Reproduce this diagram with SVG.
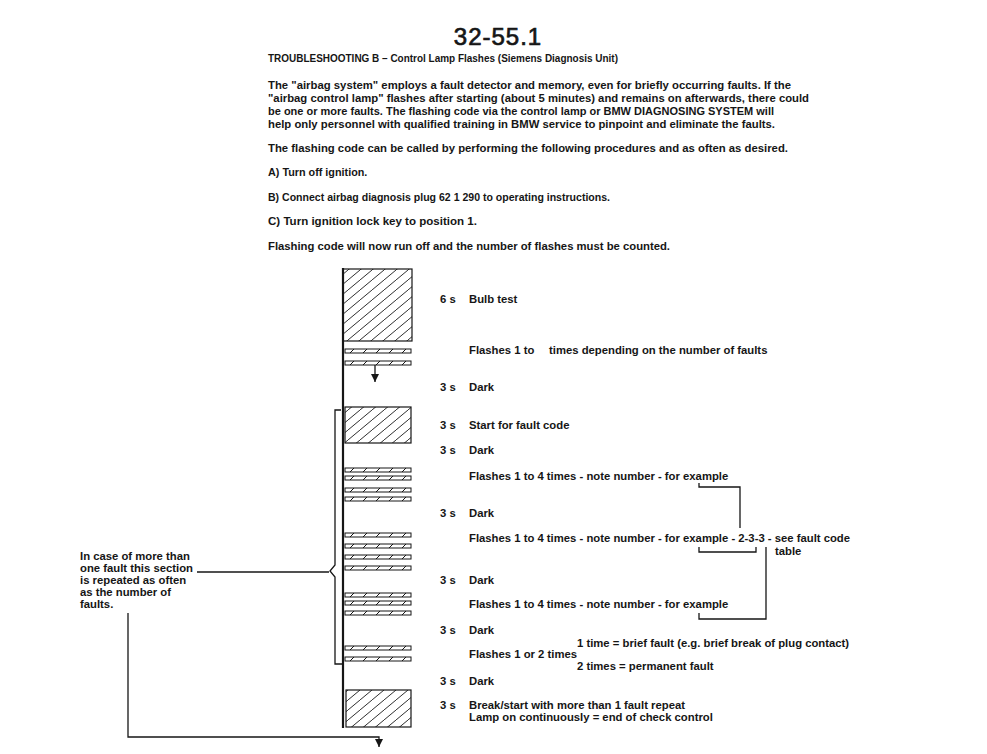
<svg xmlns="http://www.w3.org/2000/svg" width="987" height="754" viewBox="0 0 987 754">
<style>
text{font-family:"Liberation Sans",Arial,sans-serif;font-weight:bold;font-size:11.3px;fill:#161616}
.hd{font-size:10.8px}
.title{font-size:24px;font-weight:normal;letter-spacing:1px;stroke:#161616;stroke-width:0.7}
.ln{fill:none;stroke:#161616;stroke-width:1.3}
.box{fill:url(#hatch);stroke:#161616;stroke-width:1.2}
</style>
<defs>
<pattern id="hatch" patternUnits="userSpaceOnUse" width="12" height="10">
<path d="M0,10 L12,0 M-12,10 L0,0 M12,10 L24,0" stroke="#161616" stroke-width="0.9"/>
</pattern>
<g id="bar">
<rect x="0" y="0" width="66" height="4" fill="#fff" stroke="#161616" stroke-width="1"/>
<path d="M5,4 L9,0 M18,4 L22,0 M31,4 L35,0 M44,4 L48,0 M57,4 L61,0" stroke="#161616" stroke-width="1"/>
</g>
<marker id="arr" markerUnits="userSpaceOnUse" markerWidth="8" markerHeight="9" refX="8" refY="4" orient="auto">
<path d="M0,0 L8,4 L0,8 z" fill="#161616"/>
</marker>
</defs>
<rect width="987" height="754" fill="#fff"/>

<g id="header">
<text class="title" x="498" y="45" text-anchor="middle">32-55.1</text>
<text class="hd" x="268" y="62" textLength="350" lengthAdjust="spacingAndGlyphs">TROUBLESHOOTING B – Control Lamp Flashes (Siemens Diagnosis Unit)</text>
<text class="hd" x="268" y="89" textLength="523" lengthAdjust="spacingAndGlyphs">The "airbag system" employs a fault detector and memory, even for briefly occurring faults. If the</text>
<text class="hd" x="268" y="102" textLength="541" lengthAdjust="spacingAndGlyphs">"airbag control lamp" flashes after starting (about 5 minutes) and remains on afterwards, there could</text>
<text class="hd" x="268" y="115" textLength="506" lengthAdjust="spacingAndGlyphs">be one or more faults. The flashing code via the control lamp or BMW DIAGNOSING SYSTEM will</text>
<text class="hd" x="268" y="128" textLength="507" lengthAdjust="spacingAndGlyphs">help only personnel with qualified training in BMW service to pinpoint and eliminate the faults.</text>
<text class="hd" x="268" y="152" textLength="520" lengthAdjust="spacingAndGlyphs">The flashing code can be called by performing the following procedures and as often as desired.</text>
<text class="hd" x="268" y="176">A) Turn off ignition.</text>
<text class="hd" x="268" y="201" textLength="342" lengthAdjust="spacingAndGlyphs">B) Connect airbag diagnosis plug 62 1 290 to operating instructions.</text>
<text class="hd" x="268" y="225" textLength="209" lengthAdjust="spacingAndGlyphs">C) Turn ignition lock key to position 1.</text>
<text class="hd" x="268" y="250" textLength="402" lengthAdjust="spacingAndGlyphs">Flashing code will now run off and the number of flashes must be counted.</text>
</g>

<g id="lamp-column">
<rect class="box" x="343" y="269" width="69" height="72"/>
<use href="#bar" x="345" y="349"/>
<use href="#bar" x="345" y="361"/>
<rect class="box" x="345" y="407" width="66" height="36"/>
<use href="#bar" x="345" y="468"/>
<use href="#bar" x="345" y="476"/>
<use href="#bar" x="345" y="488"/>
<use href="#bar" x="345" y="497"/>
<use href="#bar" x="345" y="533"/>
<use href="#bar" x="345" y="544"/>
<use href="#bar" x="345" y="555"/>
<use href="#bar" x="345" y="566"/>
<use href="#bar" x="345" y="593"/>
<use href="#bar" x="345" y="601"/>
<use href="#bar" x="345" y="611"/>
<use href="#bar" x="345" y="646"/>
<use href="#bar" x="345" y="657"/>
<rect class="box" x="346" y="690" width="65" height="37"/>
<path d="M343,268 V728" stroke="#161616" stroke-width="2.2" fill="none"/>
</g>

<g id="timing-labels">
<text x="440" y="303">6 s</text><text x="469" y="303">Bulb test</text>
<text x="469" y="354">Flashes 1 to</text><text x="549" y="354">times depending on the number of faults</text>
<text x="440" y="391">3 s</text><text x="469" y="391">Dark</text>
<text x="440" y="429">3 s</text><text x="469" y="429">Start for fault code</text>
<text x="440" y="454">3 s</text><text x="469" y="454">Dark</text>
<text x="469" y="480">Flashes 1 to 4 times - note number - for example</text>
<text x="440" y="517">3 s</text><text x="469" y="517">Dark</text>
<text x="469" y="542">Flashes 1 to 4 times - note number - for example - 2-3-3 - see fault code</text>
<text x="775" y="555">table</text>
<text x="440" y="584">3 s</text><text x="469" y="584">Dark</text>
<text x="469" y="608">Flashes 1 to 4 times - note number - for example</text>
<text x="440" y="634">3 s</text><text x="469" y="634">Dark</text>
<text x="577" y="647">1 time = brief fault (e.g. brief break of plug contact)</text>
<text x="469" y="658">Flashes 1 or 2 times</text>
<text x="577" y="670">2 times = permanent fault</text>
<text x="440" y="685">3 s</text><text x="469" y="685">Dark</text>
<text x="440" y="709">3 s</text><text x="469" y="709">Break/start with more than 1 fault repeat</text>
<text x="469" y="721">Lamp on continuously = end of check control</text>
</g>

<g id="note">
<text x="80" y="560">In case of more than</text>
<text x="80" y="572">one fault this section</text>
<text x="80" y="584">is repeated as often</text>
<text x="80" y="596">as the number of</text>
<text x="80" y="608">faults.</text>
</g>

<g id="connectors">
<path class="ln" d="M375,365 V382" marker-end="url(#arr)"/>
<path class="ln" d="M341,410 H335 V565 L330,571 L335,577 V664 H343"/>
<path class="ln" d="M197,572 H329"/>
<path class="ln" d="M128,613 V737 H379 V747" marker-end="url(#arr)"/>
<path class="ln" d="M699,483 V487 H740 V528"/>
<path class="ln" d="M699,547 V552 H756 V547"/>
<path class="ln" d="M766,547 V619 H699 V613"/>
</g>
</svg>
